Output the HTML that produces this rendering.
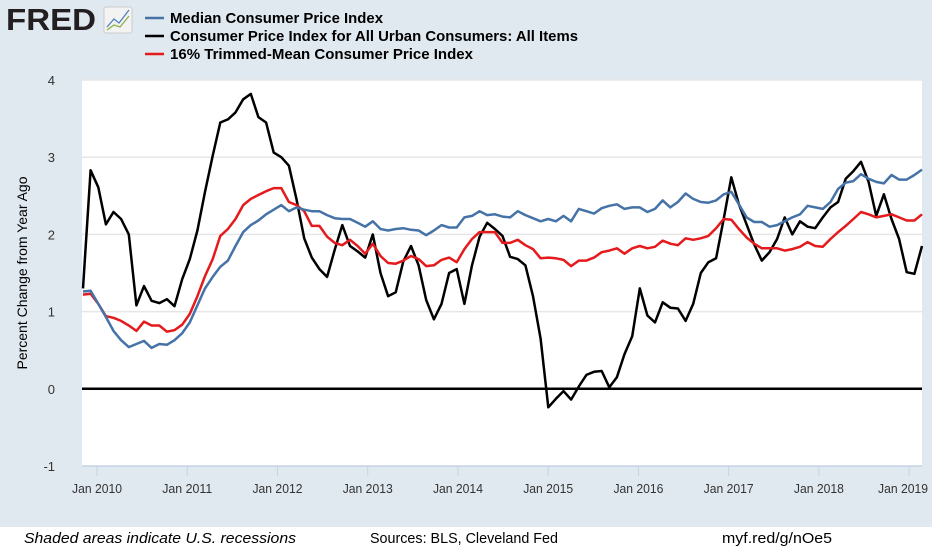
<!DOCTYPE html>
<html><head><meta charset="utf-8"><style>
body{margin:0;width:932px;height:550px;overflow:hidden;background:#fff;font-family:"Liberation Sans",sans-serif}
</style></head><body>
<svg width="932" height="550">
<rect x="0" y="0" width="932" height="527" fill="#e1e9f0"/>
<g>
<text x="6" y="30" font-size="31" font-weight="bold" fill="#231f20" textLength="90" lengthAdjust="spacingAndGlyphs">FRED</text>
<rect x="104" y="7" width="28" height="26" rx="2" fill="#f3f3f3" stroke="#ccc"/>
<polyline points="107,27 114,19 119,23 129,10" fill="none" stroke="#4f81bd" stroke-width="1.3"/>
<polyline points="107,30 114,25 120,27 129,16" fill="none" stroke="#8cb34a" stroke-width="1.3"/>
</g>
<g font-size="15" font-weight="bold" fill="#000">
<g><line x1="145" y1="18" x2="164" y2="18" stroke="#4572a7" stroke-width="2.5"/><text x="170" y="23" textLength="213" lengthAdjust="spacingAndGlyphs">Median Consumer Price Index</text></g>
<g><line x1="145" y1="36" x2="164" y2="36" stroke="#000" stroke-width="2.5"/><text x="170" y="41" textLength="408" lengthAdjust="spacingAndGlyphs">Consumer Price Index for All Urban Consumers: All Items</text></g>
<g><line x1="145" y1="54" x2="164" y2="54" stroke="#e41a1c" stroke-width="2.5"/><text x="170" y="59" textLength="303" lengthAdjust="spacingAndGlyphs">16% Trimmed-Mean Consumer Price Index</text></g>
</g>
<rect x="82" y="80" width="840" height="386" fill="#fff"/>
<g id="grid"></g>
<g id="yticks" font-size="13" fill="#333" text-anchor="end"></g>
<g id="xticks" font-size="13" fill="#333" text-anchor="middle"></g>
<text transform="translate(27,273) rotate(-90)" text-anchor="middle" font-size="14" fill="#000">Percent Change from Year Ago</text>
<g id="series"></g>
<g font-size="15" fill="#000">
<text x="24" y="543" font-style="italic" textLength="272" lengthAdjust="spacingAndGlyphs">Shaded areas indicate U.S. recessions</text>
<text x="370" y="543" textLength="188" lengthAdjust="spacingAndGlyphs">Sources: BLS, Cleveland Fed</text>
<text x="722" y="543" textLength="110" lengthAdjust="spacingAndGlyphs">myf.red/g/nOe5</text>
</g>
</svg>
<script>
const startLabel = "Dec 2009";
const yTicks = [-1, 0, 1, 2, 3, 4];
const xTickLabels = ["Jan 2010","Jan 2011","Jan 2012","Jan 2013","Jan 2014","Jan 2015","Jan 2016","Jan 2017","Jan 2018","Jan 2019"];
const xTickMonthIndex = [1,13,25,37,49,61,73,85,97,109];
const medianCPI = [1.26,1.27,1.1,0.93,0.75,0.63,0.54,0.58,0.62,0.53,0.58,0.57,0.63,0.72,0.86,1.08,1.3,1.45,1.58,1.66,1.85,2.03,2.12,2.18,2.26,2.32,2.38,2.3,2.35,2.32,2.3,2.3,2.25,2.21,2.2,2.2,
2.15,2.1,2.17,2.07,2.05,2.07,2.08,2.06,2.05,1.99,2.05,2.12,2.09,2.09,2.22,2.24,2.3,2.25,2.26,2.23,2.22,2.3,2.25,2.21,2.17,2.2,2.17,2.24,2.17,2.33,2.3,2.27,2.34,2.37,2.39,2.33,2.35,
2.35,2.29,2.33,2.44,2.35,2.42,2.53,2.46,2.42,2.41,2.44,2.52,2.55,2.39,2.22,2.16,2.16,2.1,2.12,2.17,2.22,2.26,2.37,2.35,2.33,2.42,2.59,2.67,2.69,2.78,2.72,2.68,2.66,2.77,2.71,2.71,2.77,2.84];
const headlineCPI = [1.3,2.83,2.61,2.13,2.29,2.2,2.0,1.08,1.33,1.14,1.11,1.16,1.07,1.42,1.68,2.05,2.55,3.02,3.45,3.49,3.58,3.75,3.82,3.52,3.45,3.06,3.0,2.89,2.45,1.95,1.7,1.55,1.45,1.8,2.12,1.85,1.78,1.7,2.0,1.5,1.2,1.25,1.65,1.85,1.6,1.15,0.9,1.1,1.5,1.55,1.1,1.6,1.97,2.15,2.07,1.98,1.71,1.68,1.6,1.2,0.65,-0.24,-0.13,-0.03,-0.14,0.03,0.18,0.22,0.23,0.02,0.15,0.45,0.68,1.3,0.95,0.86,1.12,1.05,1.04,0.88,1.1,1.5,1.64,1.69,2.2,2.74,2.39,2.13,1.87,1.66,1.77,1.94,2.22,2.0,2.17,2.1,2.08,2.22,2.35,2.42,2.72,2.82,2.94,2.68,2.24,2.52,2.2,1.94,1.51,1.49,1.85];
const trimmedCPI = [1.22,1.23,1.1,0.94,0.92,0.88,0.82,0.75,0.87,0.82,0.82,0.74,0.76,0.83,0.97,1.2,1.46,1.68,1.98,2.07,2.2,2.38,2.46,2.51,2.56,2.6,2.6,2.42,2.38,2.3,2.11,2.11,1.97,1.89,1.86,1.93,
1.85,1.75,1.88,1.72,1.63,1.62,1.66,1.72,1.68,1.59,1.6,1.67,1.7,1.64,1.81,1.94,2.03,2.03,2.03,1.89,1.89,1.93,1.86,1.81,1.69,1.7,1.69,1.67,1.59,1.66,1.66,1.7,1.77,1.79,1.82,1.75,1.82,
1.85,1.82,1.84,1.92,1.88,1.86,1.95,1.93,1.95,1.98,2.08,2.2,2.19,2.07,1.96,1.88,1.82,1.82,1.82,1.79,1.81,1.84,1.9,1.85,1.84,1.94,2.03,2.11,2.2,2.29,2.26,2.22,2.24,2.26,2.22,2.18,2.18,2.26];

const NS='http://www.w3.org/2000/svg';
const X0=83, X1=922, Y0=466, Y1=80, YMIN=-1, YMAX=4;
const nPts = headlineCPI.length;
function xScale(i){return X0+(X1-X0)*i/(nPts-1);}
function tickScale(i){return 97+(i-1)*7.52;}
function yScale(v){return Y0-(v-YMIN)/(YMAX-YMIN)*(Y0-Y1);}
function mk(tag,attrs,parent){const e=document.createElementNS(NS,tag);for(const k in attrs)e.setAttribute(k,attrs[k]);parent.appendChild(e);return e;}

const grid=document.getElementById('grid'), yt=document.getElementById('yticks'), xt=document.getElementById('xticks'), ser=document.getElementById('series');
yTicks.forEach(v=>{
  const y=yScale(v);
  if(v!==0){const l=mk('line',{x1:82,x2:922,y1:y,y2:y,stroke:v===YMIN?'#c5d3e3':'#e6e6e6','stroke-width':1.5},grid);
  
  }
  const t=mk('text',{x:55,y:y+5},yt);t.textContent=v;
  
  
});
xTickLabels.forEach((lab,k)=>{
  const x=tickScale(xTickMonthIndex[k]);
  const tk=mk('line',{x1:x,x2:x,y1:466,y2:476,stroke:'#c5d3e3','stroke-width':1},xt);
  
  
  const t=mk('text',{x:Math.min(x,903),y:493,textLength:50,lengthAdjust:'spacingAndGlyphs'},xt);t.textContent=lab;
  
  
});
const zl=mk('line',{x1:82,x2:922,y1:yScale(0),y2:yScale(0),stroke:'#000','stroke-width':2.5},grid);


function drawLine(data,color,name){
  const pts=data.map((v,i)=>xScale(i).toFixed(1)+','+yScale(v).toFixed(1)).join(' ');
  const p=mk('polyline',{points:pts,fill:'none',stroke:color,'stroke-width':2.5,'stroke-linejoin':'round'},ser);
  
  
}
drawLine(headlineCPI,'#000','cpi-line');
drawLine(trimmedCPI,'#e41a1c','trimmed-mean-line');
drawLine(medianCPI,'#4572a7','median-cpi-line');
</script>
</body></html>
